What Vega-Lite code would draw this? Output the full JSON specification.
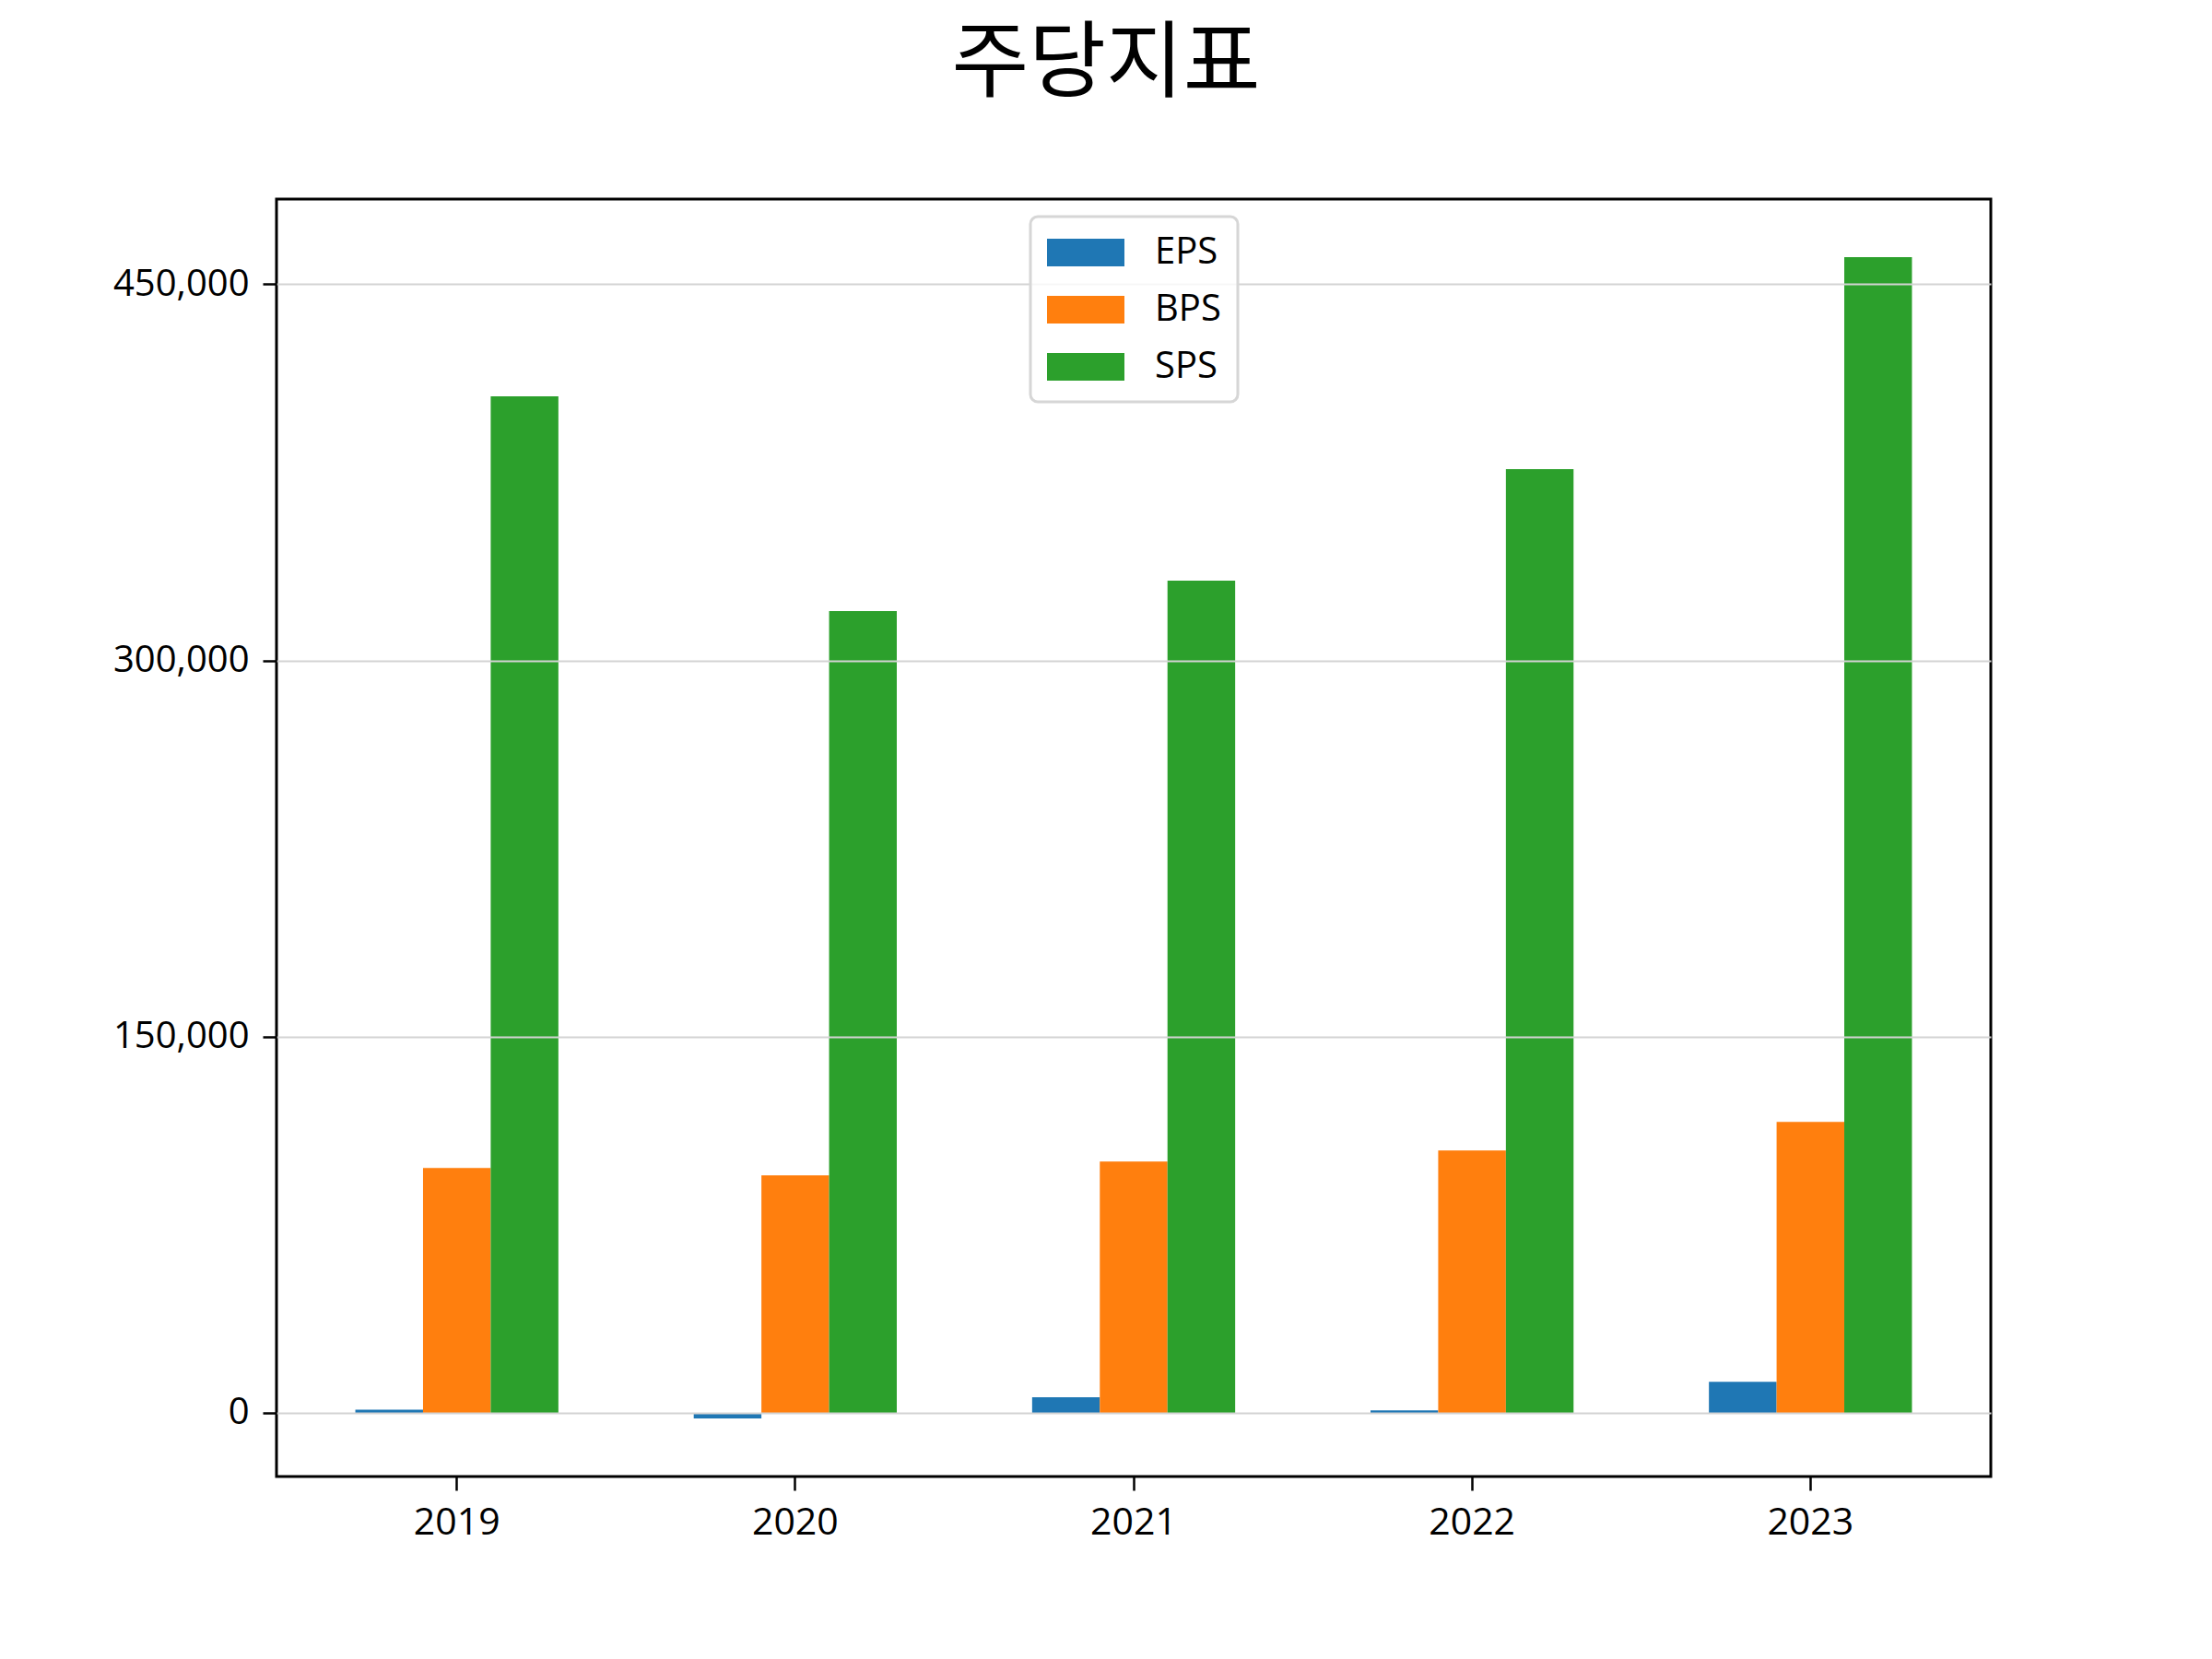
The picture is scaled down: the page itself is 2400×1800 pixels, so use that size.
{
  "$schema": "https://vega.github.io/schema/vega-lite/v6.json",
  "width": 1860,
  "height": 1386,
  "autosize": {"type": "none"},
  "padding": {"left": 300, "top": 216, "right": 240, "bottom": 198},
  "background": "white",
  "title": {
    "text": "주당지표",
    "font": "Noto Sans CJK KR",
    "fontSize": 91,
    "fontWeight": "normal",
    "color": "black",
    "anchor": "middle",
    "dx": -30,
    "baseline": "alphabetic",
    "offset": 27
  },
  "data": {
    "values": [
      {"year": "2019", "metric": "EPS", "value": 1250},
      {"year": "2019", "metric": "BPS", "value": 97660},
      {"year": "2019", "metric": "SPS", "value": 405300},
      {"year": "2020", "metric": "EPS", "value": -2200},
      {"year": "2020", "metric": "BPS", "value": 94720},
      {"year": "2020", "metric": "SPS", "value": 319660},
      {"year": "2021", "metric": "EPS", "value": 6250},
      {"year": "2021", "metric": "BPS", "value": 100230},
      {"year": "2021", "metric": "SPS", "value": 331790},
      {"year": "2022", "metric": "EPS", "value": 1000},
      {"year": "2022", "metric": "BPS", "value": 104640},
      {"year": "2022", "metric": "SPS", "value": 376260},
      {"year": "2023", "metric": "EPS", "value": 12390},
      {"year": "2023", "metric": "BPS", "value": 116030},
      {"year": "2023", "metric": "SPS", "value": 460800}
    ]
  },
  "mark": {"type": "bar", "cornerRadius": 0},
  "encoding": {
    "x": {
      "field": "year",
      "type": "nominal",
      "title": null,
      "scale": {"paddingInner": 0.4, "paddingOuter": 0.233},
      "axis": {
        "labelAngle": 0,
        "labelPadding": 15,
        "grid": false
      }
    },
    "xOffset": {
      "field": "metric",
      "type": "nominal",
      "sort": ["EPS", "BPS", "SPS"],
      "scale": {"paddingInner": 0, "paddingOuter": 0}
    },
    "y": {
      "field": "value",
      "type": "quantitative",
      "title": null,
      "scale": {"domain": [-25360, 483960], "nice": false, "zero": false},
      "axis": {
        "values": [0, 150000, 300000, 450000],
        "format": ",.0f",
        "labelPadding": 15,
        "labelFontSize": 40,
        "grid": true,
        "zindex": 1
      }
    },
    "color": {
      "field": "metric",
      "type": "nominal",
      "sort": ["EPS", "BPS", "SPS"],
      "scale": {
        "domain": ["EPS", "BPS", "SPS"],
        "range": ["#1f77b4", "#ff7f0e", "#2ca02c"]
      },
      "legend": {
        "title": null,
        "orient": "none",
        "legendX": 818,
        "legendY": 19,
        "symbolType": "M-1,-0.714H3V0.714H-1Z",
        "symbolSize": 1764,
        "symbolStrokeWidth": 0,
        "symbolOpacity": 1,
        "labelOffset": 75,
        "labelFont": "Open Sans",
        "labelFontSize": 40,
        "labelColor": "black",
        "labelBaseline": "middle",
        "rowPadding": 21,
        "padding": 18,
        "fillColor": "rgba(255,255,255,0.8)",
        "strokeColor": "#d6d6d6",
        "cornerRadius": 8,
        "zindex": 2,
        "encode": {
          "legend": {"update": {"strokeWidth": {"value": 3}}}
        }
      }
    }
  },
  "config": {
    "view": {"stroke": "black", "strokeWidth": 3},
    "axis": {
      "domain": false,
      "tickColor": "black",
      "tickWidth": 2.5,
      "tickSize": 15,
      "labelFont": "Open Sans",
      "labelFontSize": 41,
      "labelColor": "black",
      "gridColor": "#d3d3d3",
      "gridWidth": 2
    }
  }
}
